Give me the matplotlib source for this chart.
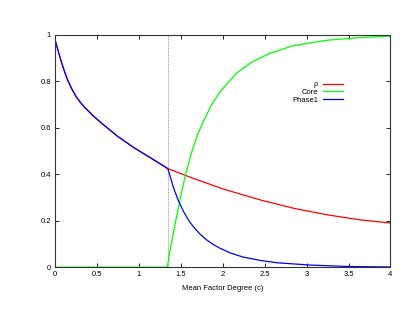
import matplotlib
matplotlib.use("Agg")
import matplotlib.pyplot as plt
from matplotlib.ticker import FuncFormatter

c_low = [0.01, 0.03, 0.05, 0.075, 0.1, 0.125, 0.15, 0.2, 0.25, 0.3, 0.35, 0.45, 0.55, 0.75, 0.95, 1.15, 1.345]
rho_low = [0.967, 0.94, 0.915, 0.884, 0.856, 0.83, 0.806, 0.767, 0.735, 0.71, 0.689,
           0.653, 0.621, 0.562, 0.512, 0.468, 0.424]

c_rho = [1.345, 1.65, 2.0, 2.45, 2.85, 3.25, 3.65, 4.0]
rho_high = [0.424, 0.382, 0.337, 0.289, 0.253, 0.225, 0.203, 0.19]

c_ph = [1.345, 1.37, 1.41, 1.47, 1.53, 1.6, 1.65, 1.73, 1.81, 1.89, 1.97, 2.1, 2.25,
        2.45, 2.65, 3.05, 3.5, 4.0]
phase1_high = [0.424, 0.395, 0.345, 0.287, 0.241, 0.198, 0.174, 0.142, 0.117, 0.097,
               0.081, 0.06, 0.043, 0.029, 0.019, 0.009, 0.003, 0.001]

c_core = [0.0, 1.34, 1.36, 1.41, 1.49, 1.55, 1.63, 1.7, 1.77, 1.87, 1.97, 2.165, 2.35,
          2.55, 2.84, 3.24, 3.64, 4.0]
core = [0.0, 0.0, 0.05, 0.146, 0.289, 0.389, 0.495, 0.57, 0.628, 0.7, 0.755, 0.835,
        0.883, 0.918, 0.953, 0.976, 0.988, 0.994]

c_threshold = 1.35

plt.rcParams['font.family'] = ['Liberation Sans', 'DejaVu Sans']
fs = 5.5

fig = plt.figure(figsize=(4.15, 3.21), dpi=100)
ax = fig.add_axes([0.1325, 0.1676, 0.8084, 0.7243])

ax.axvline(c_threshold, color='#909090', lw=0.6, ls=(0, (1.5, 1.2)))
ax.plot(c_low + c_rho[1:], rho_low + rho_high[1:], color='#ff0000', lw=0.9, label='ρ')
ax.plot(c_core, core, color='#00ff00', lw=0.9, label='Core')
ax.plot(c_low + c_ph[1:], rho_low + phase1_high[1:], color='#0000ff', lw=0.9, label='Phase1')

ax.set_xlim(0, 4)
ax.set_ylim(0, 1)
ax.set_xticks([0, 0.5, 1, 1.5, 2, 2.5, 3, 3.5, 4])
ax.set_yticks([0, 0.2, 0.4, 0.6, 0.8, 1])
fmt = FuncFormatter(lambda v, p: ('%g' % v))
ax.xaxis.set_major_formatter(fmt)
ax.yaxis.set_major_formatter(fmt)
ax.tick_params(direction='in', length=3, width=0.6, labelsize=fs, top=True, right=True, pad=3)
for s in ax.spines.values():
    s.set_linewidth(0.8)
    s.set_color('#333333')

ax.set_xlabel('Mean Factor Degree (c)', fontsize=fs, labelpad=5)

ax.legend(loc='upper right', bbox_to_anchor=(343.3 / 415, 1 - 81 / 321),
          bbox_transform=fig.transFigure, frameon=False, fontsize=fs,
          markerfirst=False, handlelength=2.6, handletextpad=0.7,
          labelspacing=0.05, borderpad=0, borderaxespad=0)

fig.savefig('out.png', dpi=100)
